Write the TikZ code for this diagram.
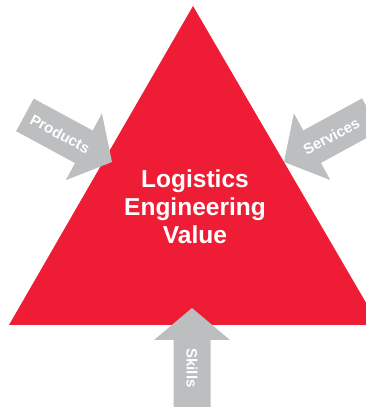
\documentclass[tikz,border=0pt]{standalone}
\usepackage{fontspec}
\setmainfont{Liberation Sans}
\usetikzlibrary{positioning,calc}
\definecolor{valuered}{RGB}{238,29,53}
\definecolor{arrowgray}{RGB}{188,190,192}

\tikzset{
  inarrow/.style={fill=arrowgray, draw=none},
  arrowlabel/.style={text=white, inner sep=0pt, font=\fontsize{15}{18}\selectfont\bfseries},
  valuelabel/.style={text=white, align=center, inner sep=0pt, font=\fontsize{24.5}{28}\selectfont\bfseries},
}

% gray arrow: name, tip, direction, label distance
\newcommand{\inputarrow}[4]{%
  \begin{scope}[shift={#2}, rotate=#3]
    \fill[inarrow] (0,0) -- (-32,38) -- (-32,18.5) -- (-99,18.5) -- (-99,-18.5) -- (-32,-18.5) -- (-32,-38) -- cycle;
    \coordinate (#1) at (-#4,0);
  \end{scope}}

\begin{document}
\begin{tikzpicture}[x=1pt, y=1pt]
\useasboundingbox (0,0) rectangle (366,408);

% Triangle
\fill[valuered] (193,402) -- (9,83) -- (379,83) -- cycle;
\node[valuelabel] (value) at (195,201) {Logistics\\Engineering\\Value};

% Arrows
\inputarrow{products}{(112,246)}{-28.4}{59}
\inputarrow{services}{(284,246)}{208.6}{54}
\inputarrow{skills}{(192,100)}{90}{60}

% Labels
\node[arrowlabel, rotate=-28.4] (productslabel) at (products) {Products};
\node[arrowlabel, rotate=28.6] (serviceslabel) at (services) {Services};
\node[arrowlabel, rotate=-90] (skillslabel) at (skills) {Skills};
\end{tikzpicture}
\end{document}
